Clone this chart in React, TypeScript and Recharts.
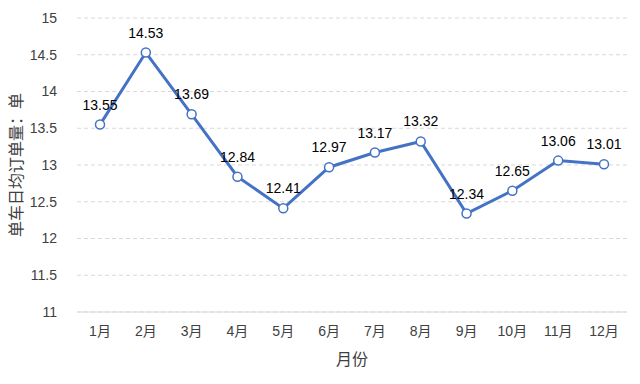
import React from "react";
import { LineChart, Line, XAxis, YAxis, CartesianGrid, LabelList, Label } from "recharts";

const months = ["1月", "2月", "3月", "4月", "5月", "6月", "7月", "8月", "9月", "10月", "11月", "12月"];
const orders = [13.55, 14.53, 13.69, 12.84, 12.41, 12.97, 13.17, 13.32, 12.34, 12.65, 13.06, 13.01];
const yTicks = [11, 11.5, 12, 12.5, 13, 13.5, 14, 14.5, 15];

const data = months.map((m, i) => ({ month: m, value: orders[i] }));

const FONT = "'Liberation Sans', 'Noto Sans CJK SC', sans-serif";

export default function App() {
  return (
    <div style={{ position: "absolute", left: 0, top: 0, width: 640, height: 384, background: "#fff", fontFamily: FONT }}>
      <LineChart width={640} height={384} data={data} margin={{ top: 18, right: 13, left: 0, bottom: 0 }}>
        <CartesianGrid vertical={false} stroke="#d9d9d9" strokeDasharray="4 3" />
        <XAxis
          dataKey="month"
          height={72}
          padding={{ left: 23, right: 23 }}
          axisLine={{ stroke: "#d9d9d9" }}
          tickLine={false}
          tick={{ fill: "#404040", fontSize: 14, fontFamily: FONT }}
          tickMargin={8}
        >
          <Label value="月份" position="insideTop" offset={42} style={{ fill: "#404040", fontSize: 16, fontFamily: FONT }} />
        </XAxis>
        <YAxis
          domain={[11, 15]}
          ticks={yTicks}
          width={77}
          axisLine={false}
          tickLine={false}
          tick={{ fill: "#404040", fontSize: 14, fontFamily: FONT }}
          tickMargin={14}
        >
          <Label value="单车日均订单量：单" angle={-90} position="insideLeft" offset={16} style={{ fill: "#404040", fontSize: 16, fontFamily: FONT, textAnchor: "middle" }} />
        </YAxis>
        <Line
          type="linear"
          dataKey="value"
          stroke="#4472C4"
          strokeWidth={3}
          dot={{ r: 4.5, fill: "#fff", stroke: "#4472C4", strokeWidth: 1.5 }}
          isAnimationActive={false}
        >
          <LabelList dataKey="value" position="top" offset={15} style={{ fill: "#000", fontSize: 14, fontFamily: FONT }} />
        </Line>
      </LineChart>
    </div>
  );
}
